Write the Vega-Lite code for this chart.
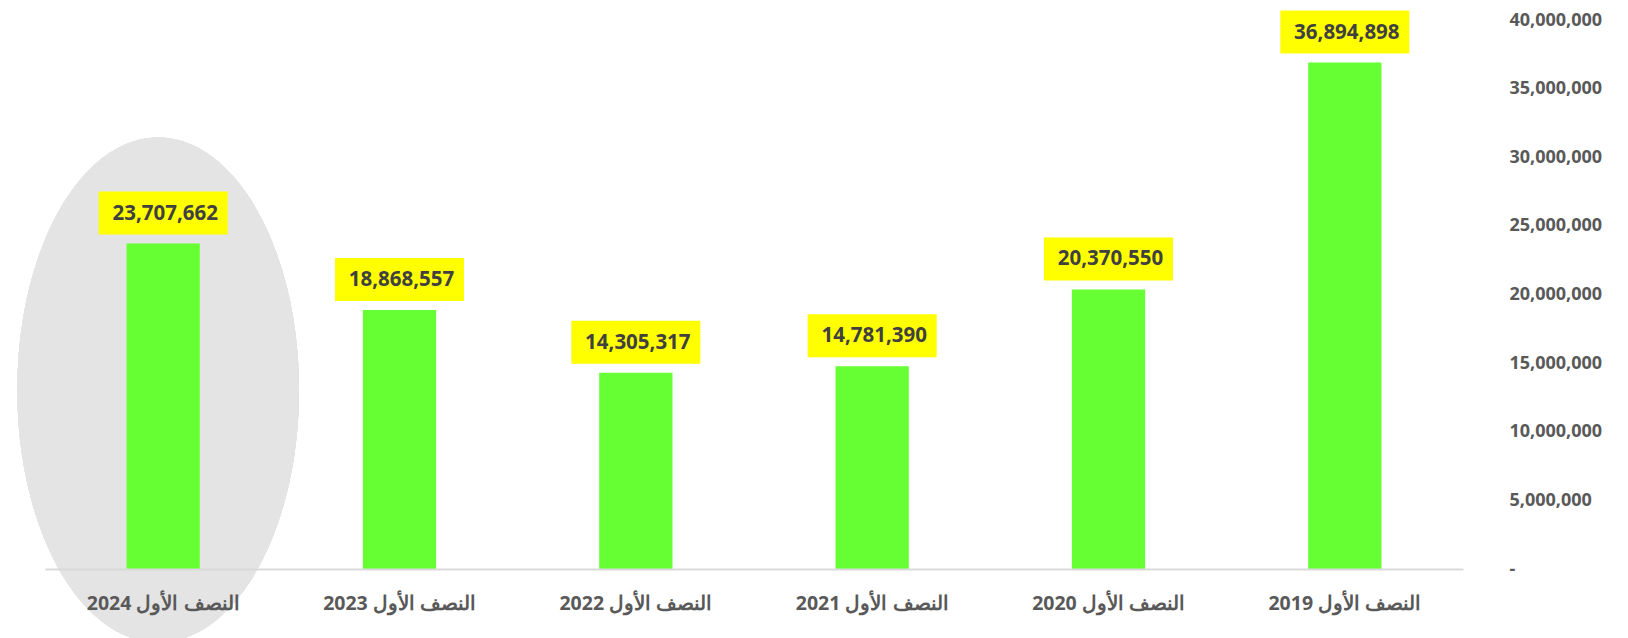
{
  "$schema": "https://vega.github.io/schema/vega-lite/v6.json",
  "width": 1418,
  "height": 549,
  "autosize": {"type": "none"},
  "padding": {"left": 45, "top": 20, "right": 165, "bottom": 69},
  "background": "#ffffff",
  "config": {"view": {"stroke": null}, "font": "Open Sans"},
  "data": {
    "values": [
      {"period": "النصف الأول 2024", "value": 23707662},
      {"period": "النصف الأول 2023", "value": 18868557},
      {"period": "النصف الأول 2022", "value": 14305317},
      {"period": "النصف الأول 2021", "value": 14781390},
      {"period": "النصف الأول 2020", "value": 20370550},
      {"period": "النصف الأول 2019", "value": 36894898}
    ]
  },
  "encoding": {
    "x": {
      "field": "period",
      "type": "nominal",
      "sort": null,
      "scale": {"paddingInner": 0.69, "paddingOuter": 0.345},
      "axis": {
        "title": null,
        "orient": "bottom",
        "zindex": 1,
        "ticks": false,
        "domainColor": "#D9D9D9",
        "domainWidth": 2,
        "labelAngle": 0,
        "labelFont": "Open Sans",
        "labelFontSize": 19.5,
        "labelFontWeight": "bold",
        "labelColor": "#595959",
        "labelPadding": 25
      }
    },
    "y": {
      "field": "value",
      "type": "quantitative",
      "scale": {"domain": [0, 40000000], "nice": false},
      "axis": {
        "title": null,
        "orient": "right",
        "domain": false,
        "ticks": false,
        "grid": false,
        "values": [0, 5000000, 10000000, 15000000, 20000000, 25000000, 30000000, 35000000, 40000000],
        "labelExpr": "datum.value == 0 ? '-' : format(datum.value, ',')",
        "labelAlign": "left",
        "labelPadding": 46,
        "labelFont": "Open Sans",
        "labelFontSize": 18,
        "labelFontWeight": "bold",
        "labelColor": "#595959"
      }
    }
  },
  "layer": [
    {
      "mark": {
        "type": "point",
        "shape": "M0,-1 A0.558,1 0 1,0 0,1 A0.558,1 0 1,0 0,-1 Z",
        "size": 255025,
        "filled": true,
        "color": "#E4E4E4",
        "opacity": 1,
        "strokeWidth": 0,
        "xOffset": -5
      },
      "encoding": {
        "x": {"datum": "النصف الأول 2024", "type": "nominal"},
        "y": {"datum": 13040000, "type": "quantitative"}
      }
    },
    {
      "mark": {"type": "bar", "color": "#66FF33"}
    },
    {
      "mark": {"type": "bar", "color": "#FFFF00", "width": 129, "yOffset": -9, "y2Offset": -52},
      "encoding": {
        "y2": {"field": "value"}
      }
    },
    {
      "mark": {
        "type": "text",
        "font": "Open Sans",
        "fontSize": 20.5,
        "fontWeight": "bold",
        "color": "#404040",
        "baseline": "middle",
        "align": "center",
        "dx": 2,
        "yOffset": -30
      },
      "encoding": {
        "text": {"field": "value", "type": "quantitative", "format": ","}
      }
    }
  ]
}
